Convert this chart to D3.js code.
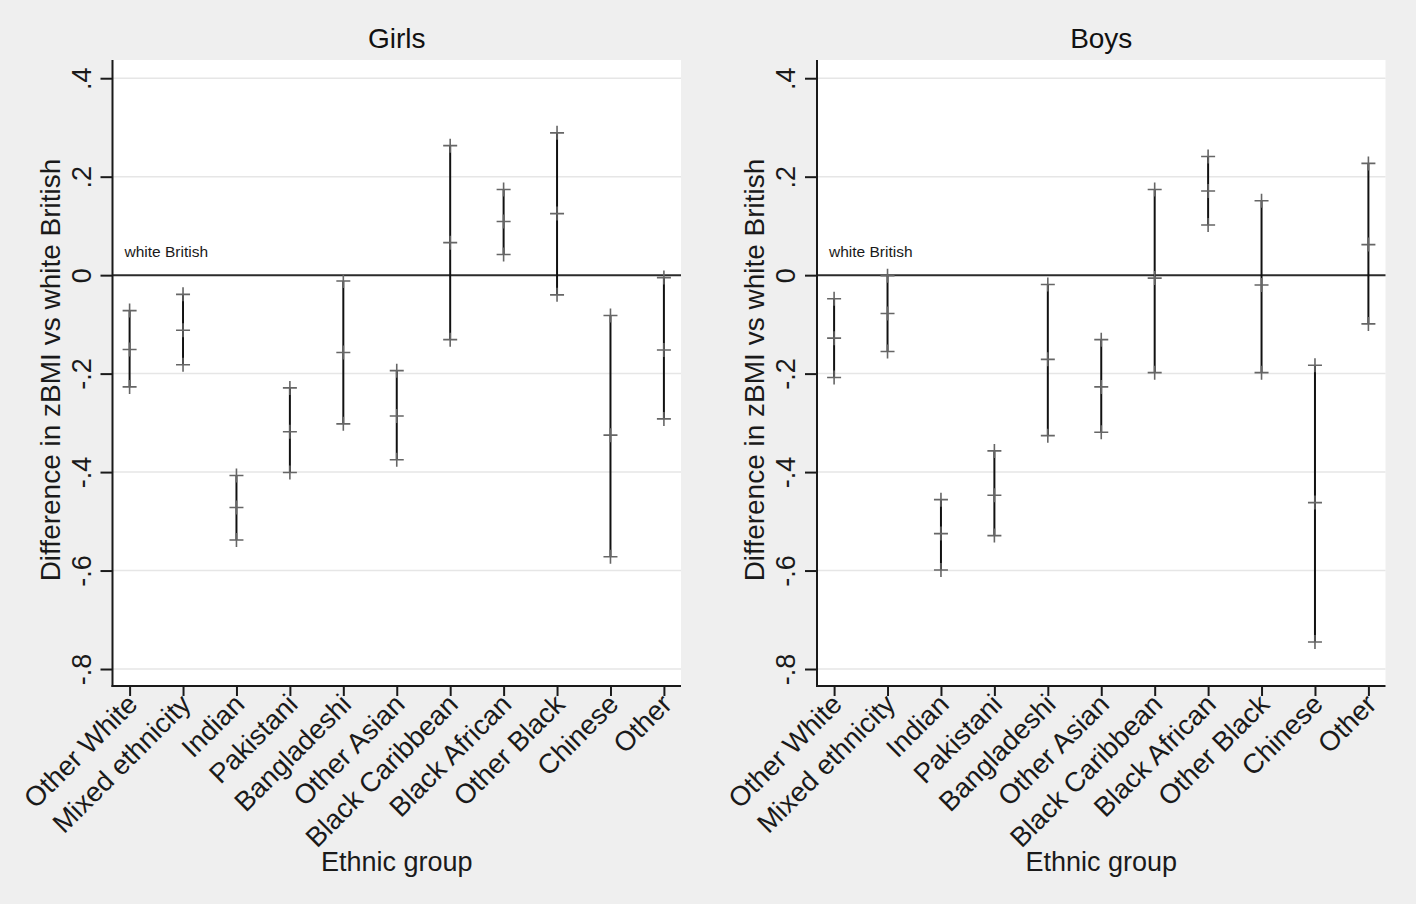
<!DOCTYPE html>
<html>
<head>
<meta charset="utf-8">
<script src="https://cdn.jsdelivr.net/npm/d3@7"></script>
<style>
  html, body { margin: 0; padding: 0; background: #ffffff; }
  svg { display: block; }
  text { font-family: "Liberation Sans", Arial, sans-serif; }
</style>
</head>
<body>
<svg id="chart" width="1418" height="906"></svg>
<script>
// ---- Data ----
const categories = ["Other White", "Mixed ethnicity", "Indian", "Pakistani", "Bangladeshi",
  "Other Asian", "Black Caribbean", "Black African", "Other Black", "Chinese", "Other"];

const girlsEst   = [-0.151, -0.112, -0.472, -0.318, -0.157, -0.286, 0.066, 0.109, 0.125, -0.325, -0.152];
const girlsLower = [-0.227, -0.182, -0.538, -0.401, -0.302, -0.375, -0.131, 0.042, -0.040, -0.572, -0.292];
const girlsUpper = [-0.072, -0.039, -0.407, -0.229, -0.012, -0.194, 0.263, 0.174, 0.289, -0.082, -0.005];

const boysEst    = [-0.128, -0.078, -0.525, -0.447, -0.171, -0.227, -0.006, 0.171, -0.020, -0.462, 0.062];
const boysLower  = [-0.208, -0.155, -0.599, -0.529, -0.326, -0.319, -0.198, 0.102, -0.198, -0.745, -0.099];
const boysUpper  = [-0.048, -0.001, -0.456, -0.357, -0.019, -0.131, 0.174, 0.241, 0.151, -0.183, 0.227];

const yTicks = [0.4, 0.2, 0, -0.2, -0.4, -0.6, -0.8];
const yTickLabels = [".4", ".2", "0", "-.2", "-.4", "-.6", "-.8"];
const panelTitles = ["Girls", "Boys"];
const yAxisTitle = "Difference in zBMI vs white British";
const xAxisTitle = "Ethnic group";
const refLabel = "white British";

// ---- Layout ----
const svg = d3.select("#chart");
svg.append("rect").attr("x", 0).attr("y", 0).attr("width", 1416).attr("height", 904).attr("fill", "#efefef");

const panels = [
  { left: 112.5, right: 681, est: girlsEst, lo: girlsLower, hi: girlsUpper, title: panelTitles[0] },
  { left: 817, right: 1385.5, est: boysEst, lo: boysLower, hi: boysUpper, title: panelTitles[1] }
];
const plotTop = 60, plotBottom = 686;

panels.forEach(p => {
  const g = svg.append("g");
  const x = d3.scalePoint().domain(categories).range([p.left, p.right]).padding(0.32);
  const y = d3.scaleLinear().domain([-0.8345, 0.437]).range([plotBottom, plotTop]);

  // plot region
  g.append("rect").attr("x", p.left).attr("y", plotTop).attr("width", p.right - p.left)
    .attr("height", plotBottom - plotTop).attr("fill", "#ffffff");

  // grid lines
  g.selectAll(".grid").data(yTicks.filter(t => t !== 0)).join("line")
    .attr("x1", p.left).attr("x2", p.right)
    .attr("y1", d => y(d)).attr("y2", d => y(d))
    .attr("stroke", "#e6e6e6").attr("stroke-width", 1.5);

  // zero reference line
  g.append("line").attr("x1", p.left).attr("x2", p.right)
    .attr("y1", y(0)).attr("y2", y(0)).attr("stroke", "#2b2b2b").attr("stroke-width", 2);

  g.append("text").attr("x", p.left + 12).attr("y", y(0) - 18)
    .attr("font-size", 15.5).attr("fill", "#1a1a1a").text(refLabel);

  // y axis
  const yAxis = d3.axisLeft(y).tickValues(yTicks).tickSize(12).tickFormat((d, i) => yTickLabels[i]);
  const ya = g.append("g").attr("transform", `translate(${p.left},0)`).call(yAxis);
  ya.select(".domain").remove();
  ya.selectAll(".tick line").attr("stroke", "#1a1a1a").attr("stroke-width", 2);
  ya.selectAll(".tick text")
    .attr("font-size", 27).attr("fill", "#1a1a1a")
    .attr("x", null).attr("dy", null)
    .attr("text-anchor", "middle")
    .attr("transform", "translate(-22,0) rotate(-90)")
    .attr("y", 0);
  g.append("line").attr("x1", p.left).attr("x2", p.left).attr("y1", plotTop).attr("y2", plotBottom + 1)
    .attr("stroke", "#1a1a1a").attr("stroke-width", 2);

  // x axis
  const xAxis = d3.axisBottom(x).tickSize(10).tickSizeOuter(0);
  const xa = g.append("g").attr("transform", `translate(0,${plotBottom})`).call(xAxis);
  xa.select(".domain").remove();
  xa.selectAll(".tick line").attr("stroke", "#1a1a1a").attr("stroke-width", 2);
  xa.selectAll(".tick text")
    .attr("font-size", 27.5).attr("fill", "#1a1a1a")
    .attr("y", null).attr("dy", null)
    .attr("text-anchor", "end")
    .attr("transform", "translate(9,20) rotate(-45)");
  g.append("line").attr("x1", p.left - 1).attr("x2", p.right).attr("y1", plotBottom).attr("y2", plotBottom)
    .attr("stroke", "#1a1a1a").attr("stroke-width", 2);

  // CI lines
  g.selectAll(".ci").data(categories).join("line")
    .attr("x1", d => x(d)).attr("x2", d => x(d))
    .attr("y1", (d, i) => y(p.lo[i])).attr("y2", (d, i) => y(p.hi[i]))
    .attr("stroke", "#111111").attr("stroke-width", 2);

  // + markers
  const pts = [];
  categories.forEach((c, i) => {
    [p.lo[i], p.est[i], p.hi[i]].forEach(v => pts.push({ c, v }));
  });
  g.selectAll(".mk").data(pts).join("path")
    .attr("transform", d => `translate(${x(d.c)},${y(d.v)})`)
    .attr("d", "M-7,0H7M0,-7V7")
    .attr("stroke", "#666666").attr("stroke-width", 1.6).attr("fill", "none");

  // titles
  const cx = (p.left + p.right) / 2;
  g.append("text").attr("x", cx).attr("y", 48).attr("text-anchor", "middle")
    .attr("font-size", 28).attr("fill", "#111").text(p.title);
  g.append("text").attr("x", cx).attr("y", 871).attr("text-anchor", "middle")
    .attr("font-size", 27).attr("fill", "#1a1a1a").text(xAxisTitle);
  g.append("text").attr("transform", `translate(${p.left - 53},${(plotTop + plotBottom) / 2 - 3}) rotate(-90)`)
    .attr("text-anchor", "middle").attr("font-size", 28).attr("fill", "#1a1a1a").text(yAxisTitle);
});
</script>
</body>
</html>
